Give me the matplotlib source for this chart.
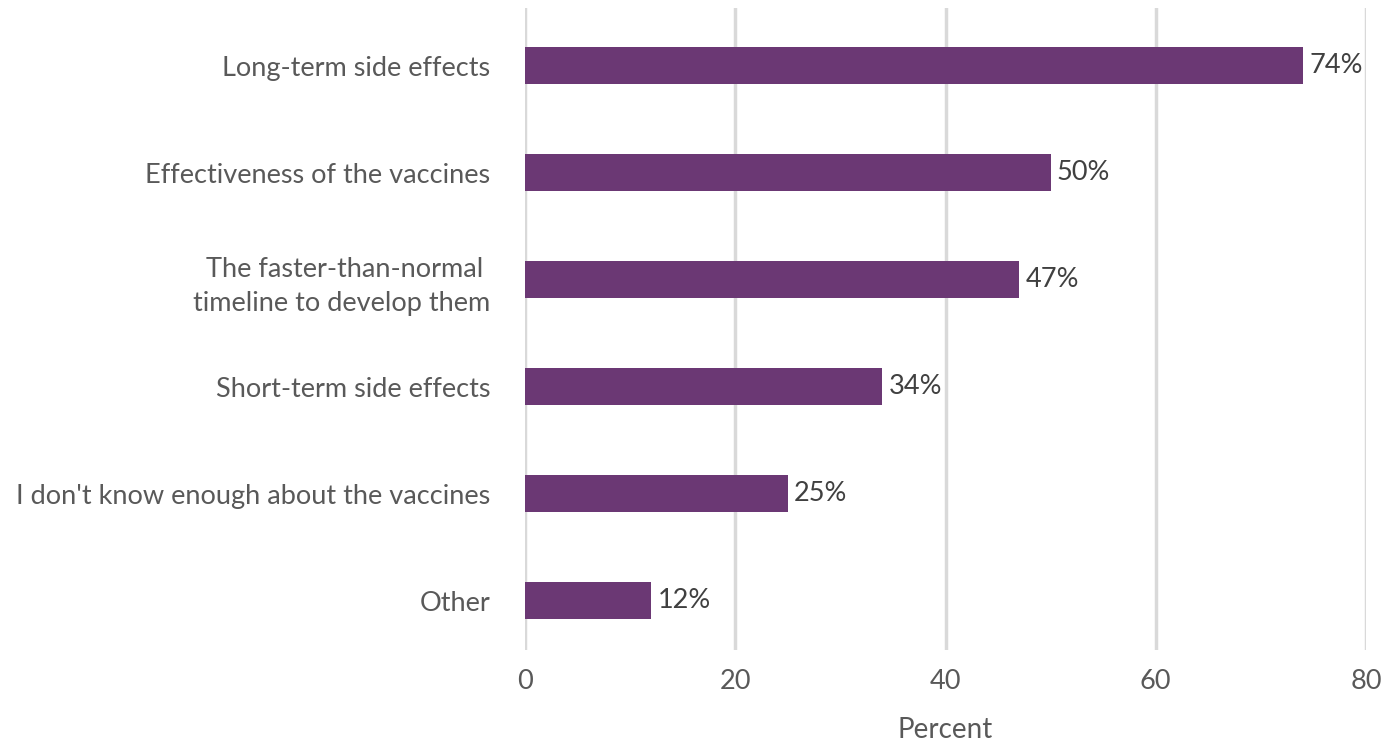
import matplotlib
matplotlib.use("Agg")
import matplotlib.pyplot as plt

categories = [
    "Long-term side effects",
    "Effectiveness of the vaccines",
    "The faster-than-normal \ntimeline to develop them",
    "Short-term side effects",
    "I don't know enough about the vaccines",
    "Other",
]
values = [74, 50, 47, 34, 25, 12]
x_ticks = [0, 20, 40, 60, 80]

plt.rcParams["font.family"] = ["Lato", "DejaVu Sans"]

bar_color = "#6B3874"
text_color = "#595959"
grid_color = "#D9D9D9"

fig = plt.figure(figsize=(13.92, 7.46), dpi=100)
ax = fig.add_axes([0.3772, 0.1287, 0.6041, 0.8606])

positions = list(range(len(categories)))
ax.barh(positions, values, height=0.35, color=bar_color, zorder=3)

for pos, val in zip(positions, values):
    ax.text(val + 0.6, pos, f"{val}%", va="center", ha="left",
            fontsize=19.5, color="#404040", zorder=4)

ax.set_xlim(0, 80)
ax.set_ylim(5.46, -0.54)
ax.set_xticks(x_ticks)
ax.set_xticklabels([str(t) for t in x_ticks])
ax.set_yticks(positions)
ax.set_yticklabels(categories)
ax.tick_params(axis="both", length=0, labelsize=19.5, colors=text_color)
ax.tick_params(axis="y", pad=25)
ax.tick_params(axis="x", pad=14)
for lbl in ax.get_yticklabels():
    lbl.set_multialignment("right")
    lbl.set_linespacing(1.45)

ax.xaxis.grid(True, color=grid_color, linewidth=2.5, zorder=0)
ax.set_axisbelow(True)
for spine in ax.spines.values():
    spine.set_visible(False)

ax.set_xlabel("Percent", fontsize=20, color=text_color, labelpad=16)

fig.savefig("out.png", dpi=100, facecolor="white")
